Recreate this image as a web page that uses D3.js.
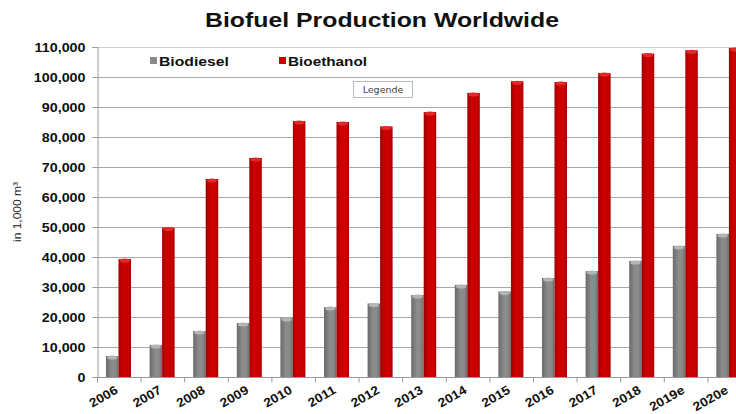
<!DOCTYPE html>
<html><head><meta charset="utf-8">
<script src="https://cdn.jsdelivr.net/npm/d3@7"></script>
<style>
html,body{margin:0;padding:0;background:#fff;}
svg{display:block;font-family:"Liberation Sans",Arial,sans-serif;}
</style></head>
<body>
<svg id="c" width="736" height="414"></svg>
<script>
const years = ["2006","2007","2008","2009","2010","2011","2012","2013","2014","2015","2016","2017","2018","2019e","2020e"];
const biodiesel = [7000,10700,15300,18000,19700,23300,24500,27300,30700,28500,33000,35300,38700,43700,47700];
const bioethanol = [39300,49800,66000,73000,85300,85000,83500,88300,94700,98600,98300,101300,107800,108900,109700];
const seriesNames = ["Biodiesel","Bioethanol"];
const yTicks = [0,10000,20000,30000,40000,50000,60000,70000,80000,90000,100000,110000];

const svg = d3.select("#c");
const plotLeft = 97, plotBottom = 377, plotTop = 47;
const step = 43.6;
const x = d3.scaleBand().domain(years).range([plotLeft, plotLeft + step*years.length]).padding(0);
const x1 = d3.scaleBand().domain(seriesNames).range([9, 34]).padding(0);
const y = d3.scaleLinear().domain([0,110000]).range([plotBottom, plotTop]);

function stretch(sel, f){
  sel.each(function(){
    const w = this.getComputedTextLength();
    d3.select(this).attr("textLength", w*f).attr("lengthAdjust","spacingAndGlyphs");
  });
}

const defs = svg.append("defs");
function grad(id, stops){
  const g = defs.append("linearGradient").attr("id", id).attr("x1","0").attr("x2","1").attr("y1","0").attr("y2","0");
  stops.forEach(s => g.append("stop").attr("offset", s[0]).attr("stop-color", s[1]));
}
grad("gGrey", [[0,"#6a6a6a"],[0.45,"#8c8c8c"],[0.75,"#8a8a8a"],[1,"#6c6c6c"]]);
grad("gRed", [[0,"#a00000"],[0.35,"#cc0000"],[0.8,"#c80000"],[1,"#a40000"]]);

// title
svg.append("text").attr("x", 382).attr("y", 27).attr("text-anchor","middle")
  .attr("font-size", 20).attr("font-weight","bold").attr("fill","#111")
  .attr("textLength", 354).attr("lengthAdjust","spacingAndGlyphs")
  .text("Biofuel Production Worldwide");

// gridlines
svg.append("g").selectAll("line").data(yTicks.filter(d=>d>0)).join("line")
  .attr("x1", plotLeft).attr("x2", 736).attr("y1", d=>y(d)+0.5).attr("y2", d=>y(d)+0.5)
  .attr("stroke", d => d===110000 ? "#cfcfcf" : "#a8a8a8").attr("stroke-width", 1);

// y axis
const yAxis = d3.axisLeft(y).tickValues(yTicks).tickSize(5).tickPadding(7).tickFormat(d3.format(","));
const ya = svg.append("g").attr("transform", `translate(${plotLeft+0.5},0)`).call(yAxis);
ya.select(".domain").attr("stroke","#999");
ya.selectAll(".tick line").attr("stroke","#999");
ya.selectAll(".tick text").attr("font-size", 13).attr("font-weight","bold").attr("fill","#111")
  .attr("font-family",'"Liberation Sans",Arial,sans-serif').call(stretch, 1.1);

// y label
svg.append("text").attr("transform","translate(21,212) rotate(-90)").attr("text-anchor","middle")
  .attr("font-size", 11).attr("fill","#222")
  .attr("textLength", 60).attr("lengthAdjust","spacingAndGlyphs").text("in 1,000 m³");

// bars
const data = years.map((yr,i)=>({yr, vals:[{k:"Biodiesel",v:biodiesel[i]},{k:"Bioethanol",v:bioethanol[i]}]}));
const grp = svg.append("g").selectAll("g").data(data).join("g").attr("transform", d=>`translate(${x(d.yr)},0)`);
grp.selectAll("rect").data(d=>d.vals).join("rect")
  .attr("x", d=>x1(d.k)).attr("width", x1.bandwidth())
  .attr("y", d=>y(d.v)).attr("height", d=>plotBottom - y(d.v))
  .attr("fill", d=> d.k==="Biodiesel" ? "url(#gGrey)" : "url(#gRed)");
grp.selectAll("ellipse").data(d=>d.vals).join("ellipse")
  .attr("cx", d=>x1(d.k)+x1.bandwidth()/2).attr("cy", d=>y(d.v)+1.5)
  .attr("rx", x1.bandwidth()/2-1).attr("ry", 2)
  .attr("fill", d=> d.k==="Biodiesel" ? "#b4b4b4" : "#e02a2a");

// x axis
const xa = svg.append("g").attr("transform", `translate(0,${plotBottom+0.5})`);
xa.append("line").attr("x1", plotLeft).attr("x2", 736).attr("stroke","#999");
xa.selectAll("line.t").data(years).join("line").attr("class","t")
  .attr("x1", d=>x(d)+0.5).attr("x2", d=>x(d)+0.5).attr("y1",0).attr("y2",5).attr("stroke","#999");
xa.selectAll("text").data(years).join("text")
  .attr("transform", d=>`translate(${x(d)+x.bandwidth()/2},${15}) rotate(-30)`)
  .attr("text-anchor","end").attr("font-size", 12.5).attr("font-weight","bold").attr("fill","#111").text(d=>d)
  .call(stretch, 1.1);

// legend
const leg = [{k:"Biodiesel", x:150, c:"#8a8a8a", w:70},{k:"Bioethanol", x:279, c:"#cc0000", w:79}];
const lg = svg.append("g").selectAll("g").data(leg).join("g");
lg.append("rect").attr("x", d=>d.x).attr("y", 57).attr("width", 7).attr("height", 7).attr("fill", d=>d.c);
lg.append("text").attr("x", d=>d.x+9).attr("y", 66).attr("font-size", 13).attr("font-weight","bold").attr("fill","#111")
  .attr("textLength", d=>d.w).attr("lengthAdjust","spacingAndGlyphs").text(d=>d.k);

svg.append("rect").attr("x", 353.5).attr("y", 81.5).attr("width", 59).attr("height", 16).attr("fill","#fff").attr("stroke","#bbb");
svg.append("text").attr("x", 383).attr("y", 93).attr("text-anchor","middle").attr("font-size", 9.5)
  .attr("font-family",'"DejaVu Sans",sans-serif').attr("fill","#444").text("Legende");
</script>
</body></html>
